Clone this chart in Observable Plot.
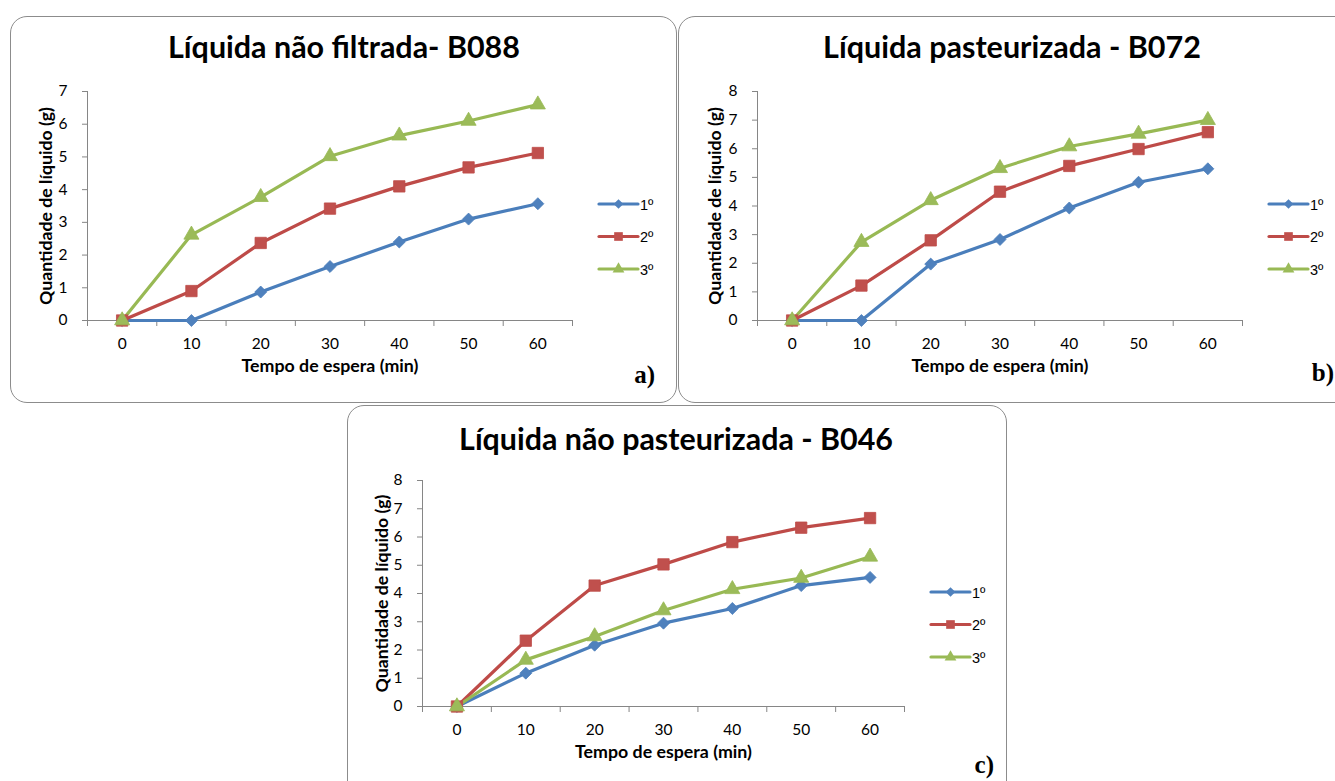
<!DOCTYPE html>
<html><head><meta charset="utf-8">
<script src="https://cdn.jsdelivr.net/npm/d3@7"></script>
<script src="https://cdn.jsdelivr.net/npm/@observablehq/plot@0.6"></script>
<style>
html,body{margin:0;padding:0;background:#fff;}
body{width:1335px;height:781px;overflow:hidden;position:relative;font-family:Lato,"Open Sans",sans-serif;}
.frame{position:absolute;border:1.5px solid #8c8c8c;border-radius:17px;box-sizing:border-box;background:#fff;}
.plot{position:absolute;}
#overlay{position:absolute;left:0;top:0;pointer-events:none;}
</style></head>
<body>
<script>
// ---- data ----
const minutes = [0, 10, 20, 30, 40, 50, 60];
const seriesNames = ["1º", "2º", "3º"];
const titleA = "Líquida não filtrada- B088";
const titleB = "Líquida pasteurizada - B072";
const titleC = "Líquida não pasteurizada - B046";
const xLabel = "Tempo de espera (min)";
const yLabel = "Quantidade de líquido (g)";
const yTicksA = [0, 1, 2, 3, 4, 5, 6, 7];
const yTicksB = [0, 1, 2, 3, 4, 5, 6, 7, 8];
const yTicksC = [0, 1, 2, 3, 4, 5, 6, 7, 8];
const a1 = [0, 0, 0.87, 1.65, 2.4, 3.1, 3.57];
const a2 = [0, 0.9, 2.37, 3.42, 4.1, 4.68, 5.12];
const a3 = [0, 2.62, 3.77, 5.02, 5.65, 6.1, 6.6];
const b1 = [0, 0, 1.97, 2.83, 3.93, 4.83, 5.3];
const b2 = [0, 1.22, 2.8, 4.5, 5.4, 5.99, 6.58];
const b3 = [0, 2.74, 4.2, 5.32, 6.08, 6.52, 7.0];
const c1 = [0, 1.18, 2.17, 2.95, 3.47, 4.28, 4.57];
const c2 = [0, 2.33, 4.28, 5.03, 5.82, 6.33, 6.67];
const c3 = [0, 1.65, 2.48, 3.4, 4.15, 4.55, 5.3];

// ---- styles ----
const lineColors = ["#4A7EBB", "#BE4B48", "#98B954"];
const markColors = ["#4F81BD", "#C0504D", "#9BBB59"];
const plotSymbols = ["diamond2", "square", "triangle"];
const plotR = [5.4, 6.4, 5.6];
const legendSymbols = [d3.symbolDiamond2, d3.symbolSquare, d3.symbolTriangle];
const legendSize = [60, 75, 60];
const FONT = "Lato";
const LEGFONT = "Liberation Sans";
const axisGray = "#868686";

const panels = [
  {title: titleA, yTicks: yTicksA, ymax: 7, series: [a1, a2, a3],
   frame: [10, 16, 667, 387], axis: {left: 87, right: 572, top: 91, bottom: 320},
   tx: 344, tb: 58, tw: 352, legend: {x: 599, y: 204}, letter: {t: "a)", x: 655, y: 383}, ylx: -41},
  {title: titleB, yTicks: yTicksB, ymax: 8, series: [b1, b2, b3],
   frame: [678, 16, 700, 387], axis: {left: 757, right: 1242, top: 91, bottom: 320},
   tx: 1012, tb: 58, tw: 378, legend: {x: 1269, y: 204}, letter: {t: "b)", x: 1334, y: 381}, ylx: -42},
  {title: titleC, yTicks: yTicksC, ymax: 8, series: [c1, c2, c3],
   frame: [347, 405, 660, 420], axis: {left: 422, right: 904, top: 480, bottom: 706},
   tx: 676, tb: 450, tw: 434, legend: {x: 931, y: 592}, letter: {t: "c)", x: 994, y: 773}, ylx: -40}
];

const ctx = document.createElement("canvas").getContext("2d");
function fitSize(text, weight, family, target) {
  ctx.font = `${weight} 100px ${family}`;
  return 100 * target / ctx.measureText(text).width;
}
const ylabSize = fitSize(yLabel, "bold", FONT, 198);
const xlabSize = fitSize(xLabel, "bold", FONT, 177);

const body = document.body;
const ml = 80, mr = 10, mt = 10, mb = 70;

panels.forEach(p => {
  const f = document.createElement("div");
  f.className = "frame";
  Object.assign(f.style, {left: p.frame[0] + "px", top: p.frame[1] + "px", width: p.frame[2] + "px", height: p.frame[3] + "px"});
  body.appendChild(f);
});

panels.forEach(p => {
  const rows = [];
  p.series.forEach((vals, s) => minutes.forEach((m, i) => rows.push({x: m, y: vals[i], s: seriesNames[s]})));
  const w = p.axis.right - p.axis.left, h = p.axis.bottom - p.axis.top;
  const marks = [
    Plot.ruleY([0], {stroke: axisGray, strokeWidth: 1}),
    Plot.ruleX([-5], {stroke: axisGray, strokeWidth: 1}),
    Plot.axisX(d3.range(-5, 66, 10), {tickSize: 6, tickFormat: () => "", stroke: axisGray, label: null}),
    Plot.axisX(minutes, {tickSize: 0, tickPadding: 17, fontSize: 15.5, label: null}),
    Plot.axisY(p.yTicks, {tickSize: 5, tickPadding: 15, fontSize: 15.5, stroke: axisGray, label: null}),
    Plot.text([xLabel], {frameAnchor: "bottom", dy: 51, fontWeight: "bold", fontSize: xlabSize}),
    Plot.text([yLabel], {frameAnchor: "left", textAnchor: "middle", dx: p.ylx, rotate: -90, fontWeight: "bold", fontSize: ylabSize})
  ];
  seriesNames.forEach((name, s) => {
    const d = rows.filter(r => r.s === name);
    marks.push(Plot.line(d, {x: "x", y: "y", stroke: lineColors[s], strokeWidth: 3.2, strokeLinejoin: "round"}));
  });
  seriesNames.forEach((name, s) => {
    const d = rows.filter(r => r.s === name);
    marks.push(Plot.dot(d, {x: "x", y: "y", symbol: plotSymbols[s], r: plotR[s], fill: markColors[s], stroke: lineColors[s], strokeWidth: 0.8}));
  });
  const chart = Plot.plot({
    width: w + ml + mr, height: h + mt + mb,
    marginLeft: ml, marginRight: mr, marginTop: mt, marginBottom: mb,
    x: {type: "linear", domain: [-5, 65], axis: null, label: null},
    y: {domain: [0, p.ymax], axis: null, label: null},
    style: {fontFamily: FONT, fontSize: "15px", color: "#000", background: "transparent", overflow: "visible"},
    marks
  });
  chart.classList.add("plot");
  chart.style.left = (p.axis.left - ml) + "px";
  chart.style.top = (p.axis.top - mt) + "px";
  body.appendChild(chart);
});

// overlay: titles, legends, letters
const svg = d3.select(body).append("svg").attr("id", "overlay").attr("width", 1335).attr("height", 781);
panels.forEach(p => {
  const ts = fitSize(p.title, "bold", FONT, p.tw);
  svg.append("text").attr("x", p.tx).attr("y", p.tb).attr("text-anchor", "middle")
    .attr("font-family", FONT).attr("font-weight", "bold").attr("font-size", ts).attr("fill", "#000").text(p.title);
  seriesNames.forEach((name, s) => {
    const y = p.legend.y + s * 32.5;
    const g = svg.append("g");
    g.append("line").attr("x1", p.legend.x).attr("x2", p.legend.x + 39).attr("y1", y).attr("y2", y)
      .attr("stroke", lineColors[s]).attr("stroke-width", 3.2).attr("stroke-linecap", "round");
    g.append("path").attr("d", d3.symbol(legendSymbols[s], legendSize[s])())
      .attr("transform", `translate(${p.legend.x + 19.5},${y})`).attr("fill", markColors[s]);
    g.append("text").attr("x", p.legend.x + 41).attr("y", y + 5.5).attr("font-family", LEGFONT)
      .attr("font-size", 14.5).attr("fill", "#000").text(name);
  });
  svg.append("text").attr("x", p.letter.x).attr("y", p.letter.y).attr("text-anchor", "end")
    .attr("font-family", "Liberation Serif, DejaVu Serif, serif").attr("font-weight", "bold")
    .attr("font-size", 25).attr("fill", "#000").text(p.letter.t);
});
</script>
</body></html>
